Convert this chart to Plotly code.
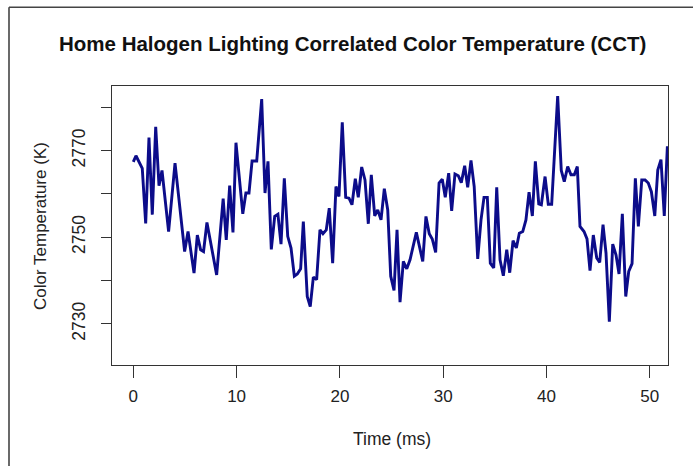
import plotly.graph_objects as go

# ---- data ----
time_ms = [0.0, 0.26, 0.87, 1.2, 1.52, 1.84, 2.17, 2.49, 2.78, 3.42, 4.04, 4.97, 5.3, 5.88, 6.2, 6.52, 6.8, 7.13, 8.07,
           8.7, 9.0, 9.33, 9.65, 9.94, 10.6, 10.9, 11.2, 11.5, 11.95, 12.43, 12.75, 13.04, 13.36, 13.69, 14.0, 14.3,
           14.62, 14.95, 15.27, 15.59, 15.88, 16.2, 16.46, 16.84, 17.13, 17.43, 17.75, 18.07, 18.36, 18.68, 18.97,
           19.3, 19.62, 19.91, 20.23, 20.56, 20.88, 21.17, 21.49, 21.78, 22.11, 22.43, 22.75, 23.04, 23.37, 23.66,
           23.98, 24.3, 24.63, 24.92, 25.24, 25.53, 25.82, 26.14, 26.47, 26.79, 27.4, 28.02, 28.33, 28.65, 28.94,
           29.27, 29.6, 29.91, 30.2, 30.53, 30.82, 31.14, 31.46, 31.75, 32.08, 32.37, 32.69, 33.0, 33.34, 33.66,
           33.95, 34.27, 34.56, 34.89, 35.18, 35.5, 35.82, 36.15, 36.44, 36.76, 37.08, 37.37, 37.7, 38.01, 38.31,
           38.63, 38.92, 39.25, 39.5, 39.86, 40.17, 40.5, 41.08, 41.43, 41.72, 42.05, 42.37, 42.69, 42.98, 43.24,
           43.63, 43.92, 44.21, 44.53, 44.86, 45.15, 45.47, 45.76, 46.08, 46.41, 46.73, 47.02, 47.34, 47.67, 47.96,
           48.28, 48.6, 48.89, 49.22, 49.54, 49.85, 50.15, 50.48, 50.77, 51.08, 51.4, 51.7]
cct_k = [2767.4, 2768.8, 2765.9, 2753.2, 2773.0, 2755.2, 2775.5, 2761.9, 2765.4, 2751.3, 2767.1, 2746.7, 2751.3,
         2741.7, 2750.5, 2747.1, 2746.7, 2753.4, 2741.3, 2758.9, 2749.4, 2761.9, 2751.1, 2771.8, 2755.4, 2760.2,
         2760.2, 2767.6, 2767.6, 2781.9, 2760.2, 2767.5, 2747.2, 2754.8, 2755.3, 2748.4, 2763.6, 2750.2, 2747.5,
         2741.0, 2741.5, 2742.7, 2753.6, 2736.3, 2734.0, 2740.8, 2740.2, 2751.7, 2750.8, 2751.7, 2756.7, 2744.0,
         2761.7, 2759.4, 2776.5, 2759.2, 2759.0, 2757.5, 2763.5, 2759.2, 2766.2, 2763.2, 2753.1, 2764.4, 2754.9,
         2756.3, 2754.0, 2761.2, 2756.3, 2741.0, 2737.7, 2751.7, 2735.0, 2744.4, 2742.7, 2744.8, 2751.1, 2744.4,
         2754.8, 2750.8, 2749.6, 2746.5, 2762.5, 2763.4, 2759.2, 2764.8, 2756.1, 2764.6, 2764.2, 2762.6, 2766.5,
         2761.5, 2767.7, 2761.7, 2745.0, 2754.0, 2759.2, 2759.2, 2744.0, 2742.9, 2761.5, 2744.8, 2741.1, 2747.1,
         2741.8, 2749.2, 2747.5, 2750.9, 2751.3, 2754.0, 2760.4, 2754.9, 2767.5, 2757.7, 2757.5, 2764.0, 2757.6,
         2757.6, 2782.6, 2765.4, 2762.8, 2766.3, 2764.4, 2764.4, 2766.3, 2752.5, 2751.3, 2749.6, 2742.3, 2750.5,
         2745.2, 2744.2, 2752.9, 2746.3, 2730.5, 2748.4, 2745.9, 2741.5, 2755.4, 2736.3, 2742.1, 2743.9, 2763.6,
         2752.5, 2763.2, 2763.2, 2762.5, 2760.5, 2754.9, 2765.5, 2767.9, 2754.9, 2771.0]

x_tick_vals = [0, 10, 20, 30, 40, 50]
x_tick_text = ["0", "10", "20", "30", "40", "50"]
y_tick_vals = [2730, 2740, 2750, 2760, 2770, 2780]
y_tick_text = ["2730", "", "2750", "", "2770", ""]

title_text = "Home Halogen Lighting Correlated Color Temperature (CCT)"
x_title = "Time (ms)"
y_title = "Color Temperature (K)"

# ---- layout geometry (pixels) ----
W, H = 693, 466
L, R, T, B = 112, 668, 86, 365
FONT = "Liberation Sans, Arial, sans-serif"

def fx(px):
    return (px - L) / (R - L)

def fy(py):
    return (B - py) / (B - T)

fig = go.Figure()
fig.add_trace(go.Scatter(x=time_ms, y=cct_k, mode="lines",
                         line=dict(color="#0c0c8a", width=2.9), showlegend=False))

fig.update_layout(
    width=W, height=H,
    margin=dict(l=L, r=W - R, t=T, b=H - B, pad=0),
    paper_bgcolor="white", plot_bgcolor="white",
    font=dict(family=FONT, size=17, color="#222222"),
    xaxis=dict(range=[-2.06, 51.76], tickvals=x_tick_vals, ticktext=x_tick_text,
               ticks="outside", ticklen=12, tickwidth=1, tickcolor="#333333", ticklabelstandoff=4,
               showgrid=False, zeroline=False, showline=True, linecolor="#333333", linewidth=1,
               mirror=True, tickfont=dict(size=17, color="#222222")),
    yaxis=dict(range=[2720.5, 2784.9], tickvals=y_tick_vals, ticktext=y_tick_text,
               ticks="outside", ticklen=10, tickwidth=1, tickcolor="#333333", tickangle=-90,
               ticklabelstandoff=9,
               showgrid=False, zeroline=False, showline=True, linecolor="#333333", linewidth=1,
               mirror=True, tickfont=dict(size=17.5, color="#222222")),
    annotations=[
        dict(text="<b>" + title_text + "</b>", x=fx(352), y=fy(44), xref="paper", yref="paper",
             showarrow=False, xanchor="center", yanchor="middle",
             font=dict(family=FONT, size=20.5, color="#111111")),
        dict(text=x_title, x=fx(392), y=fy(439), xref="paper", yref="paper",
             showarrow=False, xanchor="center", yanchor="middle",
             font=dict(family=FONT, size=17.5, color="#222222")),
        dict(text=y_title, x=fx(40), y=fy(226), xref="paper", yref="paper",
             showarrow=False, xanchor="center", yanchor="middle", textangle=-90,
             font=dict(family=FONT, size=17, color="#222222")),
    ],
    shapes=[
        dict(type="line", xref="paper", yref="paper", x0=fx(9), x1=fx(9), y0=fy(7.3), y1=fy(H),
             line=dict(color="#444444", width=1.6)),
        dict(type="line", xref="paper", yref="paper", x0=fx(9), x1=fx(W), y0=fy(7.3), y1=fy(7.3),
             line=dict(color="#444444", width=1.6)),
    ],
)

fig.write_html("out.html", config={"displayModeBar": False},
               post_script="document.body.style.margin='0';document.body.style.overflow='hidden';")
